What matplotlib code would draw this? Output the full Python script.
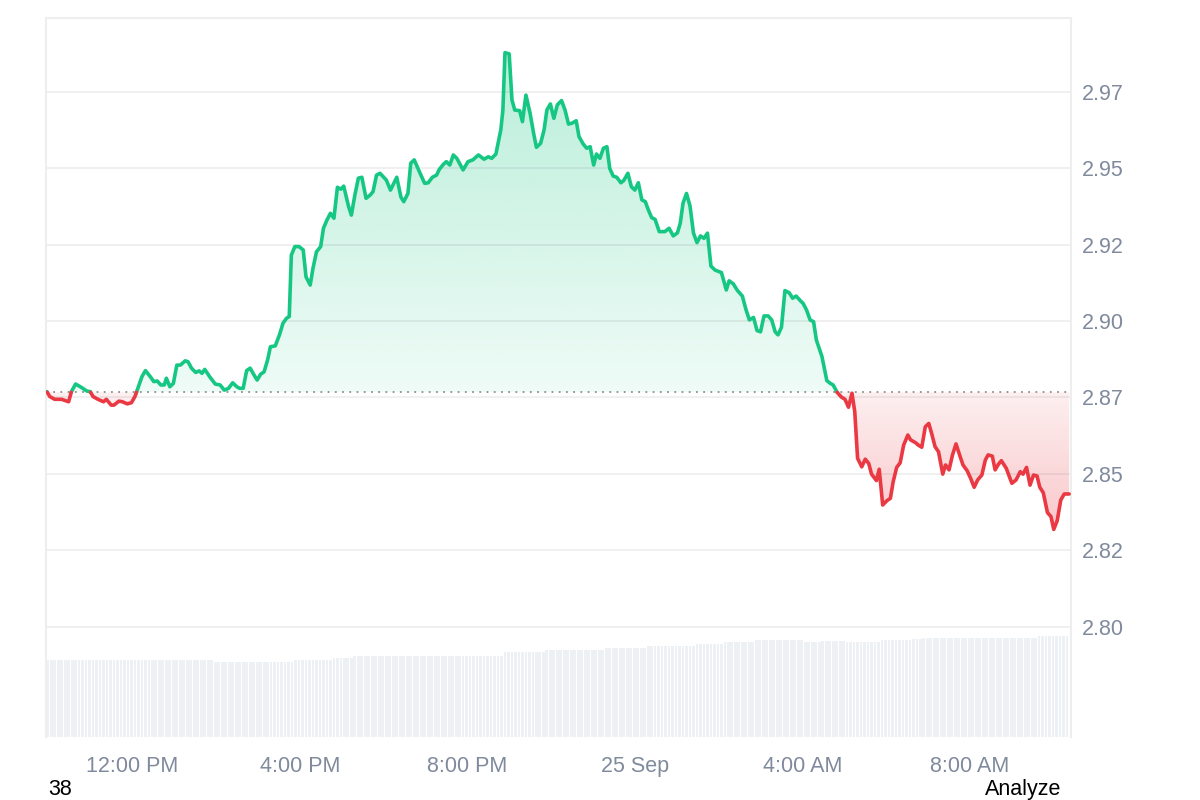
import numpy as np
import matplotlib
matplotlib.use("Agg")
import matplotlib.pyplot as plt
import matplotlib.dates as mdates
from matplotlib.path import Path
from matplotlib.colors import to_rgb
import datetime as dt

plt.rcParams['font.family'] = ['Liberation Sans', 'DejaVu Sans']

# ---------------- data ----------------
start = dt.datetime(2024, 9, 24, 9, 55)

# minutes after `start`
minutes = [
    3, 7, 14, 24, 34, 38, 44, 53, 60, 65,
    69, 76, 84, 88, 95, 99, 106, 111, 118, 124,
    129, 134, 139, 144, 151, 156, 161, 166, 171, 174,
    179, 184, 189, 194, 201, 205, 210, 216, 221, 225,
    229, 236, 244, 251, 257, 263, 269, 275, 279, 284,
    289, 294, 301, 304, 309, 314, 319, 323, 330, 336,
    341, 346, 350, 353, 358, 364, 370, 374, 380, 384,
    389, 395, 399, 404, 409, 414, 419, 424, 428, 435,
    439, 444, 449, 454, 460, 466, 470, 475, 480, 489,
    495, 504, 510, 514, 520, 524, 529, 537, 544, 549,
    555, 561, 565, 571, 575, 580, 585, 590, 599, 606,
    613, 621, 629, 635, 640, 646, 653, 656, 659, 665,
    669, 673, 680, 684, 689, 695, 700, 704, 710, 715,
    719, 724, 729, 734, 740, 745, 750, 755, 761, 765,
    771, 776, 781, 786, 790, 795, 800, 805, 809, 814,
    819, 825, 829, 835, 840, 845, 850, 855, 860, 864,
    869, 874, 880, 888, 894, 900, 906, 910, 914, 919,
    924, 929, 934, 939, 944, 949, 954, 960, 969, 976,
    980, 986, 992, 999, 1004, 1009, 1015, 1020, 1025, 1030,
    1036, 1041, 1046, 1050, 1055, 1060, 1066, 1071, 1076, 1082,
    1086, 1091, 1096, 1101, 1105, 1113, 1120, 1125, 1129, 1135,
    1141, 1146, 1151, 1156, 1160, 1164, 1170, 1175, 1180, 1184,
    1191, 1195, 1200, 1206, 1211, 1215, 1220, 1225, 1230, 1236,
    1240, 1247, 1251, 1256, 1261, 1266, 1270, 1275, 1280, 1286,
    1290, 1295, 1300, 1305, 1311, 1315, 1321, 1326, 1331, 1336,
    1342, 1347, 1351, 1357, 1361, 1366, 1370, 1377, 1385, 1391,
    1397, 1401, 1406, 1411, 1416, 1421, 1425, 1430, 1436, 1441,
    1445, 1450, 1455, 1460, 1467,
]

prices = [
    2.8769, 2.8753, 2.8744, 2.8744, 2.8736, 2.8769, 2.8794, 2.8782, 2.8771, 2.8769,
    2.8753, 2.8744, 2.8736, 2.8744, 2.8725, 2.8725, 2.8738, 2.8736, 2.8729, 2.8733,
    2.8753, 2.8785, 2.8818, 2.8838, 2.8818, 2.8802, 2.8804, 2.8791, 2.8791, 2.8813,
    2.8785, 2.8796, 2.8856, 2.8856, 2.8870, 2.8867, 2.8846, 2.8832, 2.8837, 2.8829,
    2.8842, 2.8818, 2.8794, 2.8791, 2.8774, 2.8780, 2.8798, 2.8785, 2.8780, 2.8780,
    2.8838, 2.8846, 2.8818, 2.8807, 2.8826, 2.8834, 2.8873, 2.8916, 2.8919, 2.8955,
    2.8993, 2.9009, 2.9015, 2.9216, 2.9244, 2.9244, 2.9233, 2.9145, 2.9118, 2.9173,
    2.9227, 2.9244, 2.9304, 2.9331, 2.9353, 2.9337, 2.9438, 2.9432, 2.9442, 2.9375,
    2.9347, 2.9413, 2.9468, 2.9471, 2.9402, 2.9413, 2.9424, 2.9478, 2.9484, 2.9462,
    2.9429, 2.9471, 2.9406, 2.9391, 2.9418, 2.9517, 2.9528, 2.9486, 2.9451, 2.9453,
    2.9471, 2.9478, 2.9497, 2.9514, 2.9522, 2.9511, 2.9544, 2.9533, 2.9495, 2.9522,
    2.9528, 2.9544, 2.9530, 2.9538, 2.9533, 2.9547, 2.9626, 2.9691, 2.9879, 2.9875,
    2.9724, 2.9691, 2.9689, 2.9653, 2.9740, 2.9680, 2.9615, 2.9569, 2.9582, 2.9626,
    2.9691, 2.9711, 2.9664, 2.9708, 2.9722, 2.9691, 2.9645, 2.9648, 2.9656, 2.9604,
    2.9580, 2.9566, 2.9571, 2.9511, 2.9547, 2.9533, 2.9566, 2.9571, 2.9500, 2.9475,
    2.9471, 2.9453, 2.9460, 2.9484, 2.9440, 2.9429, 2.9453, 2.9397, 2.9391, 2.9366,
    2.9339, 2.9333, 2.9293, 2.9293, 2.9304, 2.9279, 2.9289, 2.9320, 2.9386, 2.9418,
    2.9377, 2.9288, 2.9257, 2.9279, 2.9271, 2.9288, 2.9180, 2.9167, 2.9159, 2.9102,
    2.9132, 2.9122, 2.9100, 2.9082, 2.9039, 2.9004, 2.9012, 2.8969, 2.8965, 2.9017,
    2.9017, 2.9004, 2.8965, 2.8955, 2.8980, 2.9100, 2.9093, 2.9075, 2.9082, 2.9067,
    2.9058, 2.9036, 2.9004, 2.8998, 2.8938, 2.8884, 2.8805, 2.8796, 2.8791, 2.8766,
    2.8751, 2.8744, 2.8718, 2.8764, 2.8703, 2.8551, 2.8523, 2.8548, 2.8534, 2.8499,
    2.8478, 2.8515, 2.8398, 2.8412, 2.8420, 2.8474, 2.8521, 2.8536, 2.8594, 2.8627,
    2.8611, 2.8602, 2.8594, 2.8587, 2.8654, 2.8665, 2.8633, 2.8589, 2.8572, 2.8499,
    2.8529, 2.8513, 2.8562, 2.8598, 2.8556, 2.8529, 2.8510, 2.8485, 2.8456, 2.8480,
    2.8496, 2.8545, 2.8562, 2.8558, 2.8513, 2.8532, 2.8543, 2.8518, 2.8469, 2.8480,
    2.8507, 2.8499, 2.8521, 2.8463, 2.8496, 2.8493, 2.8456, 2.8438, 2.8373, 2.8360,
    2.8318, 2.8347, 2.8414, 2.8434, 2.8434,
]

reference_price = 2.8767

# volume: level (relative units) that holds from each start minute onward
vol_seg_start = [0, 241, 358, 413, 442, 659, 717, 803, 863, 933,
                 973, 1018, 1089, 1114, 1148, 1199, 1243, 1258, 1423]
vol_levels = [77.3, 75.0, 77.0, 79.0, 81.3, 85.0, 87.0, 89.0, 91.0, 93.0,
              95.0, 97.0, 95.0, 96.6, 95.0, 97.0, 98.3, 99.0, 101.3]
vol_bar_minutes = list(range(4, 1466, 5))

ytick_values = [2.800, 2.825, 2.850, 2.875, 2.900, 2.925, 2.950, 2.975]
ytick_labels = ["2.80", "2.82", "2.85", "2.87", "2.90", "2.92", "2.95", "2.97"]
xtick_times = [dt.datetime(2024, 9, 24, 12), dt.datetime(2024, 9, 24, 16),
               dt.datetime(2024, 9, 24, 20), dt.datetime(2024, 9, 25, 0),
               dt.datetime(2024, 9, 25, 4), dt.datetime(2024, 9, 25, 8)]
xtick_labels = ["12:00 PM", "4:00 PM", "8:00 PM", "25 Sep", "4:00 AM", "8:00 AM"]

GREEN = '#16c784'
RED = '#ea3943'
LABEL = '#808a9d'

# ---------------- figure ----------------
t0 = mdates.date2num(start)
x = t0 + np.array(minutes) / 1440.0
y = np.array(prices)
base = reference_price

fig = plt.figure(figsize=(12, 8), dpi=100)
fig.patch.set_facecolor('white')
L, R, T, B = 46, 1071, 18, 737.3
ax = fig.add_axes([L / 1200, 1 - B / 800, (R - L) / 1200, (B - T) / 800])
axv = ax.twinx()
ax.set_zorder(2)
axv.set_zorder(1)
ax.patch.set_visible(False)

# volume bars
bm = np.array(vol_bar_minutes)
idx = np.searchsorted(vol_seg_start, bm, side='right') - 1
bh = np.array(vol_levels)[idx]
axv.bar(t0 + bm / 1440.0, bh, width=4.0 / 1440.0, color='#eef1f4', linewidth=0)
axv.set_ylim(0, B - T)
axv.set_yticks([])
for s in axv.spines.values():
    s.set_visible(False)


def grad_fill(mask, color, y_lo, y_hi, a_lo, a_hi):
    coll = ax.fill_between(x, y, base, where=mask, interpolate=True,
                           facecolor='none', edgecolor='none')
    paths = coll.get_paths()
    if not paths:
        return
    cp = Path.make_compound_path(*paths)
    n = 256
    img = np.zeros((n, 1, 4))
    img[:, :, :3] = to_rgb(color)
    img[:, 0, 3] = np.linspace(a_lo, a_hi, n)
    im = ax.imshow(img, extent=[x.min(), x.max(), y_lo, y_hi], origin='lower',
                   aspect='auto', zorder=1, interpolation='bilinear')
    im.set_clip_path(cp, ax.transData)


grad_fill(y >= base, GREEN, base, y.max(), 0.07, 0.30)
grad_fill(y <= base, RED, y.min(), base, 0.28, 0.08)

# split line into green / red parts at baseline crossings
gx, gy, rx, ry = [], [], [], []
for i in range(len(x)):
    if i > 0:
        y0, y1 = y[i - 1], y[i]
        if (y0 - base) * (y1 - base) < 0:
            tt = (base - y0) / (y1 - y0)
            xc = x[i - 1] + tt * (x[i] - x[i - 1])
            gx.append(xc); gy.append(base)
            rx.append(xc); ry.append(base)
            if y1 >= base:
                rx.append(np.nan); ry.append(np.nan)
            else:
                gx.append(np.nan); gy.append(np.nan)
    if y[i] >= base:
        gx.append(x[i]); gy.append(y[i])
    else:
        rx.append(x[i]); ry.append(y[i])

ax.axhline(base, color='#8f8f8f', lw=1.3, linestyle=(0, (1, 3)), zorder=2)
ax.plot(gx, gy, color=GREEN, lw=2.6, solid_joinstyle='round',
        solid_capstyle='round', zorder=3)
ax.plot(rx, ry, color=RED, lw=2.6, solid_joinstyle='round',
        solid_capstyle='round', zorder=3)

# axes styling
ax.set_xlim(t0 + 1.6 / 1440.0, t0 + 1469.7 / 1440.0)
ax.set_ylim(2.76374, 2.99924)
ax.set_yticks(ytick_values)
ax.set_yticklabels(ytick_labels)
ax.set_xticks(mdates.date2num(xtick_times))
ax.set_xticklabels(xtick_labels)
ax.yaxis.tick_right()
ax.set_axisbelow('line')
ax.grid(axis='y', color='black', alpha=0.065, lw=1.3)
ax.grid(axis='x', visible=False)
ax.tick_params(axis='y', length=0, pad=8, labelsize=15.5, labelcolor=LABEL)
ax.tick_params(axis='x', length=0, pad=13.5, labelsize=15.5, labelcolor=LABEL)
for side in ['left', 'right', 'top']:
    ax.spines[side].set_color('#eeeeee')
    ax.spines[side].set_linewidth(1.5)
ax.spines['bottom'].set_visible(False)

fig.text(48.3 / 1200, 0.0065, '38', fontsize=15.5, color='black', va='baseline', ha='left')
fig.text(1061 / 1200, 0.0065, 'Analyze', fontsize=15.5, color='black', va='baseline', ha='right')

fig.savefig('out.png', dpi=100, facecolor='white')
